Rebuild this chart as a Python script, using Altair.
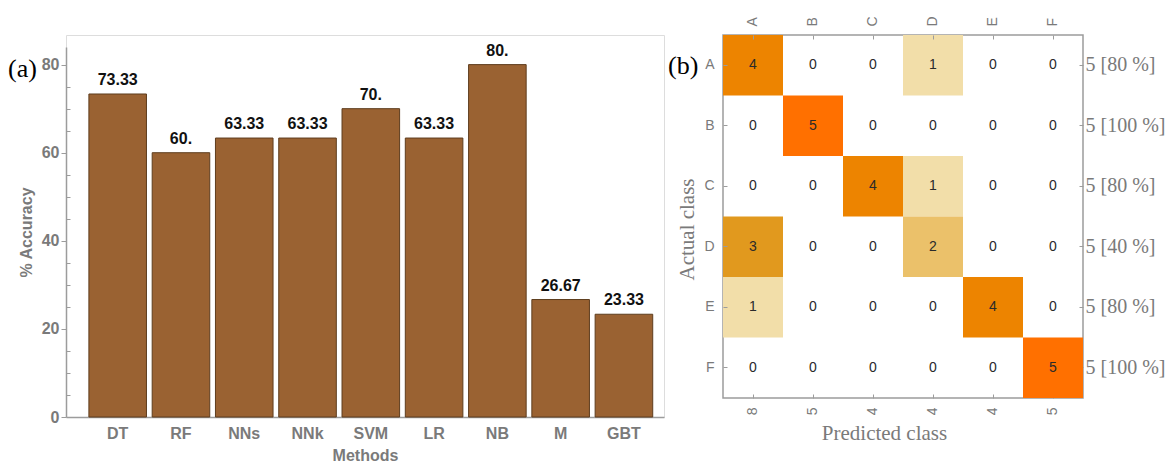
import altair as alt
import pandas as pd

# ---- (a) classification accuracy per method ----
methods = ["DT", "RF", "NNs", "NNk", "SVM", "LR", "NB", "M", "GBT"]
accuracy = [73.33, 60.0, 63.33, 63.33, 70.0, 63.33, 80.0, 26.67, 23.33]

# ---- (b) confusion matrix (rows: actual class, columns: predicted class) ----
classes = ["A", "B", "C", "D", "E", "F"]
confusion = [
    [4, 0, 0, 1, 0, 0],
    [0, 5, 0, 0, 0, 0],
    [0, 0, 4, 1, 0, 0],
    [3, 0, 0, 2, 0, 0],
    [1, 0, 0, 0, 4, 0],
    [0, 0, 0, 0, 0, 5],
]
cell_colors = ["#f2dea9", "#ebc16a", "#e1991e", "#ed8400", "#ff7000"]

GRAY = "#7a7a7a"
LINE = "#9c9c9c"
SANS = "Liberation Sans"
SERIF = "Liberation Serif"


def mathematica_number(v):
    # 60.0 -> "60.", 73.33 -> "73.33"
    return f"{v:.2f}".rstrip("0")


bars_df = pd.DataFrame({
    "Method": methods,
    "Accuracy": accuracy,
    "Label": [mathematica_number(v) for v in accuracy],
})

W1, H1 = 598, 382
y_scale = alt.Scale(domain=[0, 84], range=[H1, 12], nice=False, zero=True)

x_methods = alt.X(
    "Method:N", sort=methods, title="Methods",
    scale=alt.Scale(paddingInner=0.09, paddingOuter=0.27, align=0.67),
    axis=alt.Axis(labelAngle=0, ticks=False, domainColor=LINE, domainWidth=1.5,
                  labelColor=GRAY, labelFont=SANS, labelFontSize=16,
                  labelFontWeight="bold", labelPadding=8,
                  titleColor=GRAY, titleFont=SANS, titleFontSize=16,
                  titleFontWeight="bold", titlePadding=6),
)

bars = alt.Chart(bars_df).mark_bar(
    color="#9a6232", stroke="#5e3d1e", strokeWidth=1
).encode(
    x=x_methods,
    y=alt.Y("Accuracy:Q", scale=y_scale, title="% Accuracy",
            axis=alt.Axis(values=[0, 20, 40, 60, 80], tickSize=5, tickColor=LINE,
                          domainColor=LINE, domainWidth=1.5, grid=False,
                          labelColor=GRAY, labelFont=SANS, labelFontSize=16,
                          labelFontWeight="bold", labelPadding=2,
                          titleColor=GRAY, titleFont=SANS, titleFontSize=16,
                          titleFontWeight="bold", titlePadding=7)),
)

# value labels above the bars; their y axis carries the inward minor ticks
values = alt.Chart(bars_df).mark_text(
    dy=-9, baseline="alphabetic", font=SANS, fontSize=16, fontWeight="bold", color="#111"
).encode(
    x=x_methods,
    y=alt.Y("Accuracy:Q", scale=y_scale,
            axis=alt.Axis(orient="left", values=[v for v in range(5, 80, 5) if v % 20],
                          offset=-4, tickSize=4, tickColor=LINE, labels=False,
                          domain=False, grid=False, title=None)),
    text="Label:N",
)

tag_a = alt.Chart(pd.DataFrame({"t": ["(a)"]})).mark_text(
    align="left", baseline="alphabetic", font=SERIF, fontSize=26, color="#000"
).encode(text="t:N", x=alt.value(-58), y=alt.value(42))

left = alt.layer(bars, values, tag_a).resolve_axis(y="independent").properties(
    width=W1, height=H1
)

# ---- confusion matrix ----
rows = []
for i, actual in enumerate(classes):
    for j, pred in enumerate(classes):
        rows.append({"Actual": actual, "Predicted": pred, "Count": confusion[i][j]})
cm_df = pd.DataFrame(rows)

col_totals = [sum(confusion[i][j] for i in range(len(classes))) for j in range(len(classes))]
row_totals = [sum(r) for r in confusion]
row_pct = [round(100 * confusion[i][i] / row_totals[i]) for i in range(len(classes))]

bottom_map = "{" + ",".join(f"'{c}':'{t}'" for c, t in zip(classes, col_totals)) + "}"
right_map = "{" + ",".join(
    f"'{c}':'{t} [{p} %]'" for c, t, p in zip(classes, row_totals, row_pct)) + "}"

W2, H2 = 360, 363
band = alt.Scale(paddingInner=0, paddingOuter=0)

common_axis = dict(offset=-4, tickSize=4, tickColor=LINE, domain=False, grid=False,
                   labelColor=GRAY, labelFont=SANS, labelFontSize=14)

cells = alt.Chart(cm_df).transform_filter("datum.Count > 0").mark_rect().encode(
    x=alt.X("Predicted:N", sort=classes, scale=band,
            axis=alt.Axis(orient="top", labelAngle=270, labelPadding=9, title=None,
                          **common_axis)),
    y=alt.Y("Actual:N", sort=classes, scale=band, title="Actual class",
            axis=alt.Axis(orient="left", labelAngle=0, labelPadding=9,
                          titleFont=SERIF, titleFontSize=21, titleFontWeight="normal",
                          titleColor=GRAY, titlePadding=6, titleY=194,
                          **common_axis)),
    color=alt.Color("Count:O", scale=alt.Scale(domain=[1, 2, 3, 4, 5], range=cell_colors),
                    legend=None),
)

counts = alt.Chart(cm_df).mark_text(font=SANS, fontSize=14, color="#2a2a2a").encode(
    x=alt.X("Predicted:N", sort=classes, scale=band, title="Predicted class",
            axis=alt.Axis(orient="bottom", labelAngle=270, labelPadding=9,
                          labelExpr=bottom_map + "[datum.value]",
                          titleFont=SERIF, titleFontSize=21, titleFontWeight="normal",
                          titleColor=GRAY, titlePadding=8, titleX=161,
                          **common_axis)),
    y=alt.Y("Actual:N", sort=classes, scale=band,
            axis=alt.Axis(orient="right", labelPadding=2, title=None,
                          labelExpr=right_map + "[datum.value]",
                          offset=-4, tickSize=4, tickColor=LINE, domain=False, grid=False,
                          labelColor=GRAY, labelFont=SERIF, labelFontSize=20)),
    text="Count:Q",
)

tag_b = alt.Chart(pd.DataFrame({"t": ["(b)"]})).mark_text(
    align="left", baseline="alphabetic", font=SERIF, fontSize=26, color="#000"
).encode(text="t:N", x=alt.value(-55), y=alt.value(39))

right = alt.layer(cells, counts, tag_b).resolve_axis(
    x="independent", y="independent"
).properties(
    width=W2, height=H2, view=alt.ViewBackground(stroke=LINE, strokeWidth=1.5)
)

chart = alt.hconcat(left, right, spacing=59, bounds="flush").properties(
    padding={"left": 7, "top": 15, "right": 0, "bottom": 0}
).configure_view(stroke="transparent").configure(background="white")

chart.save("out.html", embed_options={"renderer": "svg", "actions": False})
